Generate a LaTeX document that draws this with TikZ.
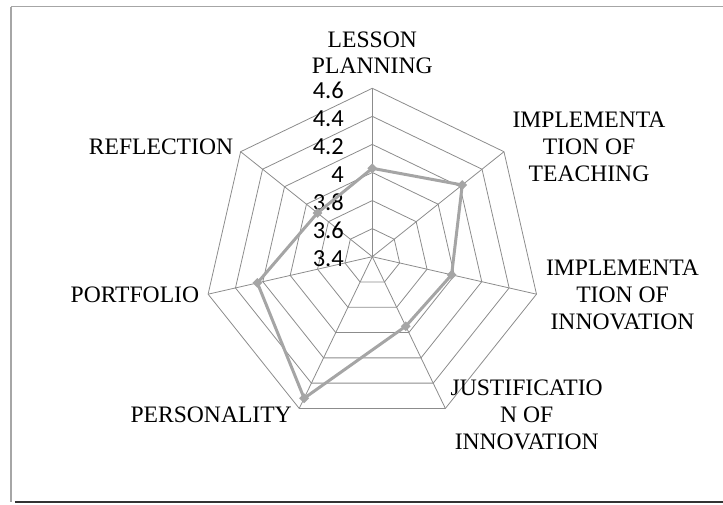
\documentclass[tikz,border=0pt]{standalone}
\usepackage{fontspec}
\setmainfont{Liberation Serif}
\newfontfamily\tickfont{Carlito}
\usepackage{tikz}
\usetikzlibrary{shapes.geometric}

\definecolor{gridgray}{HTML}{8C8C8C}
\definecolor{seriesgray}{HTML}{A5A5A5}
\definecolor{framegray}{HTML}{A6A6A6}

\tikzset{
	gridline/.style={draw=gridgray,line width=0.8pt},
	seriesline/.style={draw=seriesgray,line width=3pt,line join=round},
	datapt/.style={diamond,fill=seriesgray,inner sep=0pt,minimum size=10pt},
	ticklabel/.style={anchor=east,inner sep=0pt,font=\tickfont\fontsize{24.5}{28}\selectfont},
	axislabel/.style={align=center,inner sep=0pt,font=\fontsize{23.6}{26.7}\selectfont}
}

\begin{document}
\begin{tikzpicture}[x=1pt,y=1pt]
		\useasboundingbox (-372.3,-247.3) rectangle (350.7,256.7);

		% chart frame
		\draw[framegray,line width=1pt] (350.7,249.7) -- (-361.3,249.7);
		\draw[framegray,line width=2pt] (-361.3,249.7) -- (-361.3,-245);
		\draw[black!80,line width=2pt] (-357.3,-245.6) -- (350.7,-245.6);

		% rings and spokes
		\coordinate (O) at (0,0);
		\foreach \r in {1,...,6}
			\draw[gridline] (90:\r*28.07) \foreach \k in {1,...,6} { -- ({90-\k*360/7}:\r*28.07) } -- cycle;
		\foreach \k in {0,...,6} {
			\coordinate (a\k) at ({90-\k*360/7}:168.4);
			\draw[gridline] (O) -- (a\k);
		}

		% tick values
		\foreach \i/\t in {0/3.4,1/3.6,2/3.8,3/4,4/4.2,5/4.4,6/4.6}
			\node[ticklabel] (t\i) at (-28.3,\i*28.07-2) {\t};

		% series
		\foreach \k/\v in {0/4.03,1/4.22,2/3.98,3/3.95,4/4.52,5/4.24,6/3.90}
			\coordinate (p\k) at ({90-\k*360/7}:{(\v-3.4)*140.3});
		\draw[seriesline] (p0) -- (p1) -- (p2) -- (p3) -- (p4) -- (p5) -- (p6) -- cycle;
		\foreach \k in {0,...,6}
			\node[datapt] (m\k) at (p\k) {};

		% category names
		\begin{scope}[every node/.style={axislabel}]
			\node (lesson) at (0,204) {LESSON\\PLANNING};
			\node (teach) at (216.7,109.7) {IMPLEMENTA\\TION OF\\TEACHING};
			\node (innov) at (250.2,-38.3) {IMPLEMENTA\\TION OF\\INNOVATION};
			\node (justif) at (154.4,-158) {JUSTIFICATIO\\N OF\\INNOVATION};
			\node[anchor=east] (person) at (-80.3,-158) {PERSONALITY};
			\node[anchor=east] (portf) at (-173,-38) {PORTFOLIO};
			\node[anchor=east] (reflect) at (-139,109.7) {REFLECTION};
		\end{scope}
	\end{tikzpicture}
\end{document}
